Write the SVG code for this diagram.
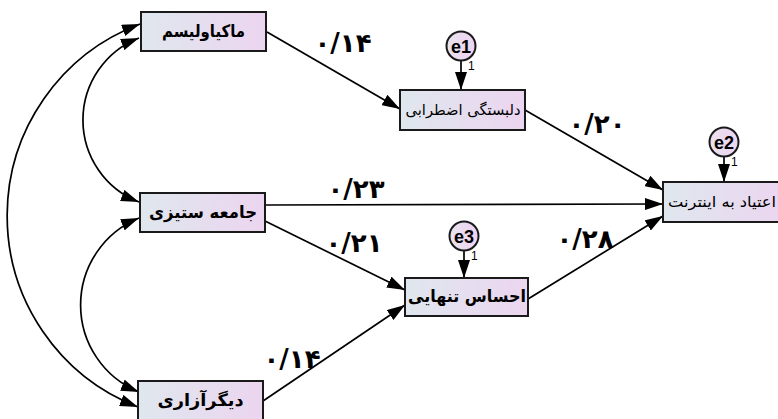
<svg xmlns="http://www.w3.org/2000/svg" width="778" height="419" viewBox="0 0 778 419">
<style>
.box{stroke:#1a1a1a;stroke-width:2;fill:url(#g)}
.lbl{font-family:"DejaVu Sans",sans-serif;font-weight:bold;font-size:17px;text-anchor:middle;fill:#000}
.sm{font-family:"DejaVu Sans",sans-serif;font-size:15px;text-anchor:middle;fill:#000}
.num{font-family:"DejaVu Sans",sans-serif;font-weight:bold;font-size:26px;text-anchor:middle;fill:#000}
.err{stroke:#1a1a1a;stroke-width:2;fill:url(#ge)}
.etx{font-family:"Liberation Sans",Arial,sans-serif;font-weight:bold;font-size:18px;text-anchor:middle;fill:#000}
.one{font-family:"Liberation Sans",Arial,sans-serif;font-size:12px;fill:#000}
.ln{stroke:#000;stroke-width:1.7;fill:none;marker-end:url(#ah)}
.cv{stroke:#000;stroke-width:1.7;fill:none;marker-end:url(#ah);marker-start:url(#ah)}
</style>
<defs>
<linearGradient id="g" x1="0" y1="0" x2="1" y2="0">
<stop offset="0" stop-color="#dfe7ee"/>
<stop offset="1" stop-color="#ecd5f0"/>
</linearGradient>
<linearGradient id="ge" x1="0" y1="0" x2="1" y2="0">
<stop offset="0" stop-color="#e8e2ee"/>
<stop offset="1" stop-color="#efd3f1"/>
</linearGradient>
<marker id="ah" markerUnits="userSpaceOnUse" markerWidth="18" markerHeight="12" refX="18" refY="6" orient="auto-start-reverse">
<path d="M0,0 L18,6 L0,12 z" fill="#000"/>
</marker>
</defs>
<g id="connectors">
<path class="cv" d="M140,24 A205 205 0 0 0 138,407"/>
<path class="cv" d="M139,38 A88 88 0 0 0 139,202"/>
<path class="cv" d="M139,218 A94 94 0 0 0 139,392"/>
<path class="ln" d="M267,32 L400,109"/>
<path class="ln" d="M525,110 L663,190"/>
<path class="ln" d="M265,205 L663,204"/>
<path class="ln" d="M265,221 L405,290"/>
<path class="ln" d="M528,299 L663,216"/>
<path class="ln" d="M263,401 L405,305"/>
<path class="ln" d="M461,61 L461,90"/>
<path class="ln" d="M724,157 L724,182"/>
<path class="ln" d="M464,251 L464,278"/>
<text class="num" x="343" y="52">۰/۱۴</text>
<text class="num" x="597" y="133">۰/۲۰</text>
<text class="num" x="356" y="198">۰/۲۳</text>
<text class="num" x="354" y="252">۰/۲۱</text>
<text class="num" x="585" y="248">۰/۲۸</text>
<text class="num" x="292" y="368">۰/۱۴</text>
</g>
<g id="n_mak">
<rect class="box" x="141" y="12" width="125" height="39"/>
<text class="lbl" x="203.5" y="37" textLength="83" lengthAdjust="spacingAndGlyphs">ماکیاولیسم</text>
</g>
<g id="n_del">
<rect class="box" x="400" y="90" width="125" height="40"/>
<text class="sm" x="463" y="115" textLength="115" lengthAdjust="spacingAndGlyphs">دلبستگی اضطرابی</text>
</g>
<g id="n_etiad">
<rect class="box" x="663" y="182" width="125" height="40"/>
<text class="sm" x="722" y="207" textLength="108" lengthAdjust="spacingAndGlyphs">اعتیاد به اینترنت</text>
</g>
<g id="n_jame">
<rect class="box" x="140" y="193" width="125" height="39"/>
<text class="lbl" x="203" y="218" textLength="108" lengthAdjust="spacingAndGlyphs">جامعه ستیزی</text>
</g>
<g id="n_ehsas">
<rect class="box" x="405" y="278" width="123" height="38"/>
<text class="lbl" x="467" y="302" textLength="118" lengthAdjust="spacingAndGlyphs">احساس تنهایی</text>
</g>
<g id="n_digar">
<rect class="box" x="138" y="381" width="125" height="40"/>
<text class="lbl" x="200.5" y="406" textLength="86" lengthAdjust="spacingAndGlyphs">دیگرآزاری</text>
</g>
<g id="e1">
<circle class="err" cx="461" cy="46" r="14.5"/>
<text class="etx" x="461" y="52.5">e1</text>
<text class="one" x="468" y="70">1</text>
</g>
<g id="e2">
<circle class="err" cx="724" cy="142" r="14.5"/>
<text class="etx" x="724" y="148.5">e2</text>
<text class="one" x="731" y="166">1</text>
</g>
<g id="e3">
<circle class="err" cx="464" cy="236" r="14.5"/>
<text class="etx" x="464" y="242.5">e3</text>
<text class="one" x="471" y="260">1</text>
</g>
</svg>
